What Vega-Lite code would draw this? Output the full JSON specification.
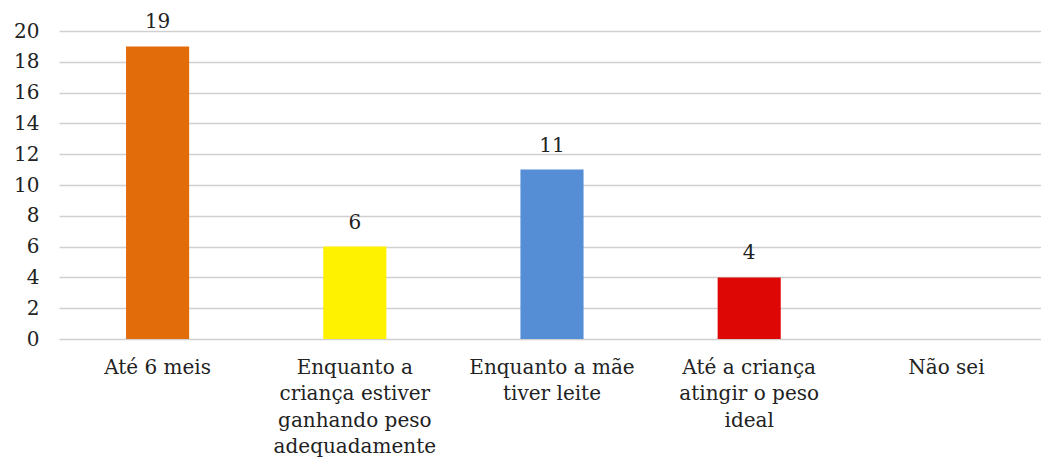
{
  "$schema": "https://vega.github.io/schema/vega-lite/v6.json",
  "width": 986,
  "height": 308,
  "autosize": {"type": "none"},
  "padding": {"left": 59, "top": 31, "right": 0, "bottom": 120},
  "background": "white",
  "config": {"view": {"stroke": null}, "font": "DejaVu Serif"},
  "data": {"values": [
    {"cat": "Até 6 meis", "value": 19, "color": "#E36C0A"},
    {"cat": "Enquanto a|criança estiver|ganhando peso|adequadamente", "value": 6, "color": "#FFF200"},
    {"cat": "Enquanto a mãe|tiver leite", "value": 11, "color": "#558ED5"},
    {"cat": "Até a criança|atingir o peso|ideal", "value": 4, "color": "#DD0806"},
    {"cat": "Não sei", "value": 0, "color": "#FFFFFF"}
  ]},
  "encoding": {
    "x": {"field": "cat", "type": "nominal", "sort": null,
      "scale": {"paddingInner": 0.68, "paddingOuter": 0.34},
      "axis": {"title": null, "labelAngle": 0, "domain": false, "ticks": false,
        "labelExpr": "split(datum.label, '|')", "labelFont": "DejaVu Serif", "labelFontSize": 20,
        "labelColor": "#222222", "labelLineHeight": 26.5, "labelPadding": 18, "labelLimit": 300}},
    "y": {"field": "value", "type": "quantitative",
      "scale": {"domain": [0, 20]},
      "axis": {"title": null, "values": [0,2,4,6,8,10,12,14,16,18,20], "domain": false, "ticks": false,
        "gridColor": "#D0D0D0", "gridWidth": 1.5, "labelFont": "DejaVu Serif", "labelFontSize": 20,
        "labelColor": "#222222", "labelPadding": 20}}
  },
  "layer": [
    {"mark": {"type": "bar"}, "encoding": {"color": {"field": "color", "type": "nominal", "scale": null}}},
    {"transform": [{"filter": "datum.value > 0"}],
     "mark": {"type": "text", "baseline": "bottom", "dy": -14, "fontSize": 20, "font": "DejaVu Serif", "color": "#222222"},
     "encoding": {"text": {"field": "value", "type": "quantitative"}}}
  ]
}
